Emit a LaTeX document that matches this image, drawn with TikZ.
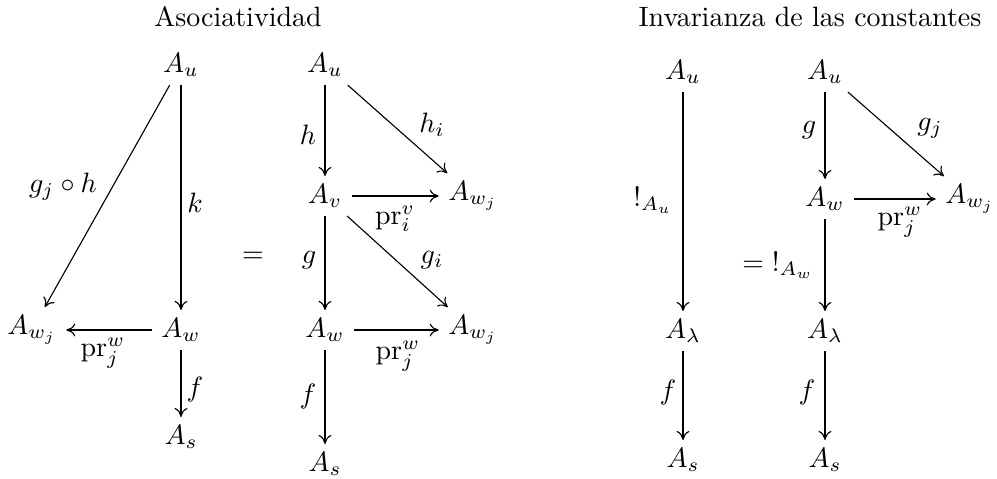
\documentclass[tikz,border=0pt]{standalone}
\usetikzlibrary{arrows.meta}
\begin{document}
\begin{tikzpicture}[x=0.3571pt,y=-0.3571pt,
  obj/.style={inner xsep=3.5pt, inner ysep=3pt, outer sep=0pt},
  lbl/.style={inner sep=0pt},
  arr/.style={-{To[length=3.2pt,width=4.6pt]}, line width=0.4pt}]
\useasboundingbox (0,0) rectangle (997,479);
% titles
\node[lbl] (t1) at (238,17) {Asociatividad};
\node[lbl] (t2) at (810,17) {Invarianza de las constantes};
% left diagram
\node[obj] (LAu) at (181,65) {$A_u$};
\node[obj] (LAw) at (181,330) {$A_w$};
\node[obj] (LAwj) at (32,330) {$A_{w_j}$};
\node[obj] (LAs) at (181,437) {$A_s$};
\draw[arr] (LAu) -- (LAwj);
\draw[arr] (LAu) -- (LAw);
\draw[arr] (LAw) -- (LAwj);
\draw[arr] (LAw) -- (LAs);
\node[lbl] (l1) at (63,187) {$g_j\circ h$};
\node[lbl] (l2) at (195,203) {$k$};
\node[lbl] (l3) at (103,353) {$\mathrm{pr}^w_j$};
\node[lbl] (l4) at (195,390) {$f$};
\node[lbl] (eq1) at (253,257) {$=$};
% middle diagram
\node[obj] (MAu) at (325,65) {$A_u$};
\node[obj] (MAv) at (325,196) {$A_v$};
\node[obj] (MAwj1) at (473,196) {$A_{w_j}$};
\node[obj] (MAw) at (325,330) {$A_w$};
\node[obj] (MAwj2) at (473,330) {$A_{w_j}$};
\node[obj] (MAs) at (325,464) {$A_s$};
\draw[arr] (MAu) -- (MAv);
\draw[arr] (MAu) -- (MAwj1);
\draw[arr] (MAv) -- (MAwj1);
\draw[arr] (MAv) -- (MAw);
\draw[arr] (MAv) -- (MAwj2);
\draw[arr] (MAw) -- (MAwj2);
\draw[arr] (MAw) -- (MAs);
\node[lbl] (m1) at (308,135) {$h$};
\node[lbl] (m2) at (432,125) {$h_i$};
\node[lbl] (m3) at (395,219) {$\mathrm{pr}^v_i$};
\node[lbl] (m4) at (309,260) {$g$};
\node[lbl] (m5) at (432,260) {$g_i$};
\node[lbl] (m6) at (398,356) {$\mathrm{pr}^w_j$};
\node[lbl] (m7) at (308,397) {$f$};
% right diagram, first column
\node[obj] (RAu1) at (683,72) {$A_u$};
\node[obj] (RAl1) at (683,331) {$A_\lambda$};
\node[obj] (RAs1) at (683,460) {$A_s$};
\draw[arr] (RAu1) -- (RAl1);
\draw[arr] (RAl1) -- (RAs1);
\node[lbl] (r1) at (653,200) {$!_{A_u}$};
\node[lbl] (r2) at (668,393) {$f$};
% right diagram, second column
\node[obj] (RAu2) at (825,72) {$A_u$};
\node[obj] (RAw) at (825,199) {$A_w$};
\node[obj] (RAwj) at (970,199) {$A_{w_j}$};
\node[obj] (RAl2) at (825,331) {$A_\lambda$};
\node[obj] (RAs2) at (825,460) {$A_s$};
\draw[arr] (RAu2) -- (RAw);
\draw[arr] (RAu2) -- (RAwj);
\draw[arr] (RAw) -- (RAwj);
\draw[arr] (RAw) -- (RAl2);
\draw[arr] (RAl2) -- (RAs2);
\node[lbl] (r3) at (809,130) {$g$};
\node[lbl] (r4) at (930,128) {$g_j$};
\node[lbl] (r5) at (900,222) {$\mathrm{pr}^w_j$};
\node[lbl] (r6) at (778,265) {$=\;!_{A_w}$};
\node[lbl] (r7) at (807,393) {$f$};
\end{tikzpicture}
\end{document}
